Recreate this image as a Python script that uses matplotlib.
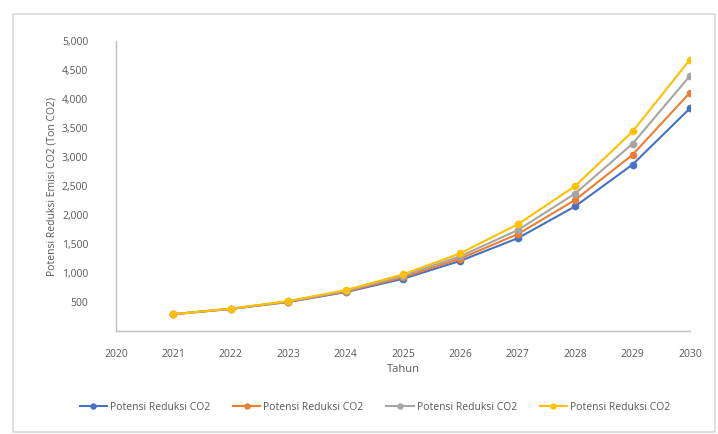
import matplotlib.pyplot as plt
from matplotlib.patches import Rectangle
from matplotlib.ticker import FuncFormatter

years = [2021, 2022, 2023, 2024, 2025, 2026, 2027, 2028, 2029, 2030]
blue = [290, 380, 500, 670, 900, 1210, 1600, 2150, 2870, 3840]
orange = [290, 382, 505, 680, 925, 1250, 1670, 2260, 3040, 4110]
gray = [290, 384, 510, 690, 950, 1290, 1740, 2370, 3230, 4400]
yellow = [290, 386, 515, 705, 975, 1340, 1840, 2500, 3440, 4680]
series_label = "Potensi Reduksi CO2"
x_ticks = list(range(2020, 2031))
y_ticks = [500, 1000, 1500, 2000, 2500, 3000, 3500, 4000, 4500, 5000]

plt.rcParams['font.family'] = ['Open Sans', 'DejaVu Sans']
txt = '#595959'

fig = plt.figure(figsize=(7.18, 4.34), dpi=100)
fig.patches.append(Rectangle((13 / 718, 2 / 434), 702 / 718, 418 / 434,
                             transform=fig.transFigure, fill=False,
                             edgecolor='#d9d9d9', linewidth=1.2))
ax = fig.add_axes([116 / 718, 103 / 434, 574 / 718, 290 / 434])

for vals, col in [(blue, '#4472C4'), (orange, '#ED7D31'),
                  (gray, '#A5A5A5'), (yellow, '#FFC000')]:
    ax.plot(years, vals, color=col, linewidth=1.5, marker='o',
            markersize=4.5, label=series_label)

ax.set_xlim(2020, 2030)
ax.set_ylim(0, 5000)
ax.set_xticks(x_ticks)
ax.set_yticks(y_ticks)
ax.yaxis.set_major_formatter(FuncFormatter(lambda v, p: f"{int(v):,}"))
ax.tick_params(length=0, labelsize=7.5, colors=txt)
ax.tick_params(axis='x', pad=13)
ax.tick_params(axis='y', pad=20)
for s in ['top', 'right']:
    ax.spines[s].set_visible(False)
for s in ['left', 'bottom']:
    ax.spines[s].set_color('#bfbfbf')
    ax.spines[s].set_linewidth(1.0)

ax.set_xlabel("Tahun", fontsize=8, color=txt, labelpad=3)
ax.set_ylabel("Potensi Reduksi Emisi CO2 (Ton CO2)", fontsize=7.5, color=txt,
              labelpad=3)

ax.legend(loc='center', bbox_to_anchor=(375 / 718, 27 / 434),
          bbox_transform=fig.transFigure, ncol=4, frameon=False,
          fontsize=7.5, labelcolor=txt, handlelength=2.6,
          columnspacing=2.2, handletextpad=0.3, markerscale=0.8)

fig.savefig("out.png", dpi=100)
